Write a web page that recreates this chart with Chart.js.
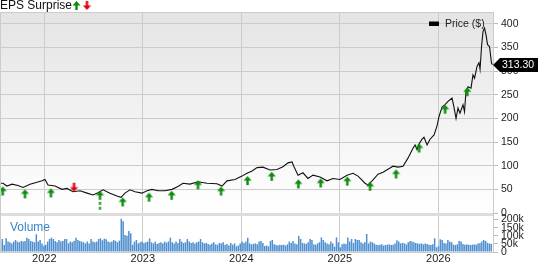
<!DOCTYPE html>
<html>
<head>
<meta charset="utf-8">
<script src="https://cdn.jsdelivr.net/npm/chart.js@4/dist/chart.umd.min.js"></script>
<style>
html,body{margin:0;padding:0;background:#fff;}
#wrap{position:relative;width:538px;height:262px;}
</style>
</head>
<body>
<div id="wrap"><canvas id="c" width="538" height="262"></canvas></div>
<script>
// ---------- DATA ----------
const yearTicks = [2022, 2023, 2024, 2025, 2026];
const priceTicks = [0, 50, 100, 150, 200, 250, 300, 350, 400];
const volumeTicks = [0, 50000, 100000, 150000, 200000];

// price line (decimal year, $)
const priceYears = [
2021.550,2021.581,2021.621,2021.672,2021.733,2021.784,2021.855,2021.926,2021.977,2022.007,
2022.038,2022.109,2022.180,2022.231,2022.291,2022.363,2022.434,2022.495,2022.545,2022.596,
2022.667,2022.738,2022.779,2022.819,2022.870,2022.921,2022.992,2023.043,2023.093,2023.154,
2023.225,2023.297,2023.357,2023.408,2023.479,2023.561,2023.652,2023.753,2023.804,2023.855,
2023.936,2024.007,2024.058,2024.109,2024.160,2024.220,2024.291,2024.362,2024.423,2024.474,
2024.515,2024.535,2024.576,2024.626,2024.677,2024.728,2024.799,2024.870,2024.931,2025.002,
2025.073,2025.134,2025.185,2025.256,2025.286,2025.337,2025.388,2025.439,2025.510,2025.540,
2025.591,2025.642,2025.692,2025.743,2025.764,2025.784,2025.804,2025.835,2025.855,2025.886,
2025.916,2025.957,2025.987,2026.007,2026.038,2026.068,2026.099,2026.139,2026.154,2026.180,
2026.200,2026.220,2026.251,2026.266,2026.281,2026.302,2026.332,2026.352,2026.368,2026.393,
2026.413,2026.424,2026.439,2026.454,2026.469,2026.484,2026.500,2026.520,2026.540,2026.550
];
const priceValues = [
63,63,57,61,58,54,61,65,68,71,
59,57,50,52,45,47,42,38,43,49,
42,36,33,42,49,45,42,47,50,47,
47,50,56,63,61,66,63,62,57,68,
71,78,84,89,96,97,91,92,98,106,
108,98,80,85,73,80,76,68,73,71,
80,84,78,63,59,70,82,86,95,99,
97,99,116,137,144,134,146,156,160,144,
156,165,184,204,224,229,236,243,229,200,
222,211,229,214,257,267,264,292,285,310,
318,304,352,384,391,377,356,352,317,313.30
];

// EPS surprise markers (report date as decimal year, price at arrow tip, kind)
const epsYears = [2021.578,2021.804,2022.068,2022.302,2022.565,2022.796,2023.063,2023.293,2023.560,2023.794,
                  2024.063,2024.309,2024.579,2024.806,2025.076,2025.307,2025.571,2025.805,2026.069,2026.294];
const epsTip   = [56,50,52,45,47,33,43,47,69,56,78,87,71,73,77,66,92,147,229,266];
const epsKind  = ['up','up','up','down','upDashed','up','up','up','up','up',
                  'up','up','up','up','up','up','up','up','up','up'];

// weekly volume (thousands of shares)
const volStartYear = 2021.555;
const volWeekStep = 7 / 365.25;
const volumeK = [
68,80,43,84,64,60,53,64,74,64,
60,68,64,68,88,80,68,64,60,109,
64,74,53,39,45,64,80,88,80,68,
60,74,64,68,80,80,53,64,60,68,
88,74,68,64,60,53,64,53,80,64,
60,64,80,84,72,82,78,64,60,64,
74,68,60,70,204,190,105,100,130,115,
45,64,74,53,60,64,55,60,64,84,
60,53,64,50,56,60,53,64,58,64,
88,60,53,64,56,80,64,55,60,80,
64,56,60,53,60,64,80,60,53,56,
50,45,53,60,47,45,56,53,60,45,
50,40,56,45,53,35,40,53,64,56,
64,88,53,47,50,53,47,64,68,56,
37,40,35,68,74,47,43,40,45,43,
45,40,47,64,55,68,53,47,99,80,
56,53,50,60,80,74,47,45,53,60,
90,74,60,53,47,64,53,33,90,60,
29,47,53,50,90,64,80,56,80,74,
74,60,53,60,111,53,64,60,53,45,
43,45,47,40,43,45,47,43,45,53,
72,64,53,56,53,47,60,68,64,60,
56,53,50,53,47,53,50,45,43,47,
84,29,35,78,74,56,53,74,64,60,
45,43,47,68,64,50,45,47,45,43,
45,47,45,53,56,64,74,68,56,53,50
];

// ---------- STYLE ----------
const FONT = "'Liberation Sans', Arial, sans-serif";
const GRID = '#cccccc';
const GREEN = '#0b8a0b';
const RED = '#e3000f';

function makeArrow(kind){
  const c = document.createElement('canvas');
  c.width = 9;
  c.height = kind === 'upDashed' ? 40 : 20;
  const g = c.getContext('2d');
  const cy = c.height / 2;
  g.beginPath();
  if (kind === 'down') {
    g.fillStyle = RED;
    g.moveTo(4.5, cy); g.lineTo(8.5, cy-4.5); g.lineTo(5.7, cy-4.5); g.lineTo(5.7, cy-9);
    g.lineTo(3.3, cy-9); g.lineTo(3.3, cy-4.5); g.lineTo(0.5, cy-4.5);
  } else {
    g.fillStyle = GREEN;
    g.moveTo(4.5, cy); g.lineTo(8.5, cy+4.5); g.lineTo(5.7, cy+4.5); g.lineTo(5.7, cy+9);
    g.lineTo(3.3, cy+9); g.lineTo(3.3, cy+4.5); g.lineTo(0.5, cy+4.5);
  }
  g.closePath(); g.fill();
  if (kind === 'upDashed') {
    g.fillRect(3.5, cy+11, 2, 3);
    g.fillRect(3.5, cy+16, 2, 3);
  }
  return c;
}
const arrowImg = {up: makeArrow('up'), down: makeArrow('down'), upDashed: makeArrow('upDashed')};

const priceData = priceYears.map((x, i) => ({x, y: priceValues[i]}));
const epsData = epsYears.map((x, i) => ({x, y: epsTip[i]}));
const volData = volumeK.map((v, i) => ({x: volStartYear + i * volWeekStep, y: v * 1000}));

function noPad(s){ s.paddingLeft = 0; s.paddingRight = 0; s.paddingTop = 0; s.paddingBottom = 0; }

const decor = {
  id: 'decor',
  beforeDraw(chart){
    const {ctx, chartArea} = chart;
    const yp = chart.scales.yPrice;
    const gr = ctx.createLinearGradient(0, yp.top, 0, yp.bottom);
    gr.addColorStop(0, '#e4e4e4');
    gr.addColorStop(1, '#ffffff');
    ctx.save();
    ctx.fillStyle = gr;
    ctx.fillRect(chartArea.left, yp.top, chartArea.right - chartArea.left, yp.bottom - yp.top);
    ctx.restore();
  },
  beforeDatasetsDraw(chart){
    const {ctx, chartArea} = chart;
    const yp = chart.scales.yPrice;
    ctx.save();
    ctx.fillStyle = '#dddddd';
    ctx.fillRect(chartArea.left, yp.bottom, chartArea.right - chartArea.left, 3);
    ctx.restore();
  },
  afterDraw(chart){
    const {ctx, chartArea} = chart;
    const yp = chart.scales.yPrice;
    ctx.save();
    ctx.strokeStyle = GRID; ctx.lineWidth = 1;
    ctx.beginPath();
    ctx.moveTo(chartArea.left + 0.5, chartArea.bottom);
    ctx.lineTo(chartArea.left + 0.5, chartArea.top + 0.5);
    ctx.lineTo(chartArea.right, chartArea.top + 0.5);
    ctx.stroke();
    // title arrows
    ctx.drawImage(arrowImg.up, 0, 10, 9, 10, 72, 1, 9, 10);
    ctx.drawImage(arrowImg.down, 0, 0, 9, 10, 82.5, 0, 9, 10);
    // legend
    ctx.fillStyle = '#000';
    ctx.fillRect(429, 21.5, 10, 4.5);
    ctx.fillStyle = '#222';
    ctx.font = '10.5px ' + FONT;
    ctx.textBaseline = 'middle';
    ctx.fillText('Price ($)', 445, 24);
    // Volume label
    ctx.fillStyle = '#3a86c8';
    ctx.font = '12px ' + FONT;
    ctx.textBaseline = 'alphabetic';
    ctx.fillText('Volume', 10, 231);
    // last price tag
    const last = priceValues[priceValues.length - 1];
    const y = Math.round(yp.getPixelForValue(last));
    const x0 = chartArea.right;
    ctx.fillStyle = '#000';
    ctx.beginPath();
    ctx.moveTo(x0, y); ctx.lineTo(x0 + 7, y - 7); ctx.lineTo(538, y - 7);
    ctx.lineTo(538, y + 7); ctx.lineTo(x0 + 7, y + 7); ctx.closePath(); ctx.fill();
    ctx.fillStyle = '#fff';
    ctx.font = '10.5px ' + FONT;
    ctx.textBaseline = 'middle';
    ctx.fillText(last.toFixed(2), x0 + 9, y + 0.5);
    ctx.restore();
  }
};

new Chart(document.getElementById('c'), {
  type: 'line',
  data: {
    datasets: [
      {
        type: 'line', label: 'EPS', data: epsData, yAxisID: 'yPrice', xAxisID: 'x',
        showLine: false, pointRadius: 5, pointHoverRadius: 5,
        pointStyle: epsKind.map(k => arrowImg[k]), order: 0
      },
      {
        type: 'line', label: 'Price ($)', data: priceData, yAxisID: 'yPrice', xAxisID: 'x',
        borderColor: '#111111', borderWidth: 1.1, pointRadius: 0, tension: 0, fill: false, order: 1
      },
      {
        type: 'bar', label: 'Volume', data: volData, yAxisID: 'yVol', xAxisID: 'x',
        backgroundColor: '#4f8fcf', borderWidth: 0, barPercentage: 0.8, categoryPercentage: 1, order: 2
      }
    ]
  },
  options: {
    responsive: false,
    animation: false,
    events: [],
    layout: {padding: 0, autoPadding: false},
    plugins: {
      legend: {display: false},
      tooltip: {enabled: false},
      title: {
        display: true, text: 'EPS Surprise', align: 'start', color: '#111',
        font: {family: FONT, size: 12, weight: 'normal', lineHeight: 1}, padding: 0
      }
    },
    scales: {
      x: {
        type: 'linear', position: 'bottom', offset: false,
        min: 2021.5503, max: 2026.5553,
        afterBuildTicks: s => { s.ticks = yearTicks.map(v => ({value: v})); },
        afterFit: s => { s.height = 10; noPad(s); },
        grid: {color: GRID, drawTicks: false, offset: false},
        border: {display: true, color: GRID},
        ticks: {padding: 0, color: '#222', font: {family: FONT, size: 11}, callback: v => String(v), maxRotation: 0, autoSkip: false}
      },
      yPrice: {
        type: 'linear', position: 'right', stack: 'main', stackWeight: 201,
        min: 0, max: 425,
        afterBuildTicks: s => { s.ticks = priceTicks.map(v => ({value: v})); },
        afterFit: s => { s.width = 45; noPad(s); },
        grid: {color: GRID, tickLength: 5, tickColor: '#bbbbbb'},
        border: {display: true, color: GRID},
        ticks: {padding: 3, color: '#222', autoSkip: false, font: {family: FONT, size: 10.5}}
      },
      yVol: {
        type: 'linear', position: 'right', stack: 'main', stackWeight: 39,
        min: 0, max: 240000,
        afterBuildTicks: s => { s.ticks = volumeTicks.map(v => ({value: v})); },
        afterFit: s => { s.width = 45; noPad(s); },
        grid: {drawOnChartArea: false, tickLength: 5, tickColor: '#bbbbbb'},
        border: {display: true, color: GRID},
        ticks: {padding: 3, color: '#222', autoSkip: false,
          font: {family: FONT, size: 10.5}, callback: v => v === 0 ? '0' : (v / 1000) + 'k'}
      }
    }
  },
  plugins: [decor]
});
</script>
</body>
</html>
